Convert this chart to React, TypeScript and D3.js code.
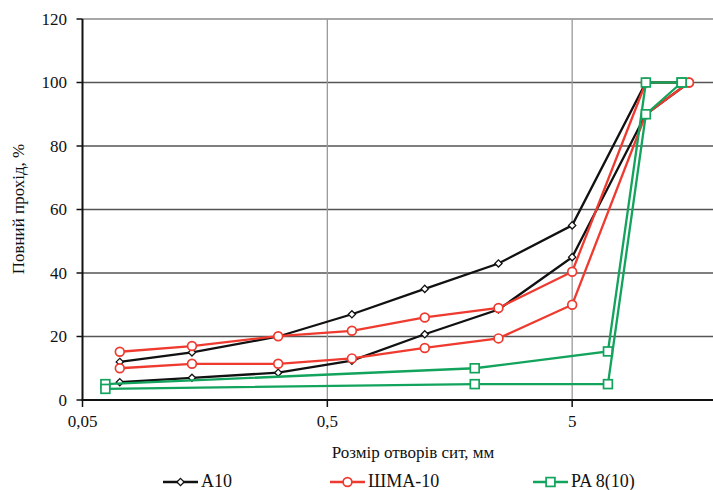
import React from 'react';
import { scaleLog, scaleLinear, line } from 'd3';

// sieve sizes, mm
const SIEVES_A = [0.071, 0.14, 0.315, 0.63, 1.25, 2.5, 5, 10, 15];
const SIEVES_PA = [0.062, 2, 7, 10, 14];

// passing, %
const A10_UPPER = [12, 15, 20, 27, 35, 43, 55, 100, 100];
const A10_LOWER = [5.6, 7, 8.6, 12.4, 20.7, 28.5, 45, 90, 100];
const SHMA_UPPER = [15.2, 17, 20.1, 21.8, 26, 29, 40.4, 100, 100];
const SHMA_LOWER = [10, 11.4, 11.4, 13.1, 16.4, 19.4, 30, 90, 100];
const PA_UPPER = [5, 10, 15.3, 100, 100];
const PA_LOWER = [3.5, 5, 5, 90, 100];

const Y_TICKS = [0, 20, 40, 60, 80, 100, 120];
const X_TICKS = [0.05, 0.5, 5];
const X_TICK_LABELS = ['0,05', '0,5', '5'];

const SERIES = [
  { name: 'A10', color: '#111111', marker: 'diamond', sieves: SIEVES_A, curves: [A10_UPPER, A10_LOWER] },
  { name: 'ШМА-10', color: '#ee3a2f', marker: 'circle', sieves: SIEVES_A, curves: [SHMA_UPPER, SHMA_LOWER] },
  { name: 'PA 8(10)', color: '#12a35c', marker: 'square', sieves: SIEVES_PA, curves: [PA_UPPER, PA_LOWER] },
];

const W = 713;
const H = 490;
const FONT = '"Liberation Serif", "Times New Roman", serif';

const x = scaleLog().domain([0.05, 50]).range([82.5, 817]);
const y = scaleLinear().domain([0, 120]).range([400, 19]);

function Marker({ kind, cx, cy, color }: { kind: string; cx: number; cy: number; color: string }) {
  if (kind === 'circle') {
    return <circle cx={cx} cy={cy} r={4.4} fill="#fff" stroke={color} strokeWidth={1.7} />;
  }
  if (kind === 'square') {
    return <rect x={cx - 4.4} y={cy - 4.4} width={8.8} height={8.8} fill="#fff" stroke={color} strokeWidth={1.7} />;
  }
  const r = 3.6;
  return (
    <path d={`M${cx},${cy - r}L${cx + r},${cy}L${cx},${cy + r}L${cx - r},${cy}Z`}
      fill="#fff" stroke={color} strokeWidth={1.3} />
  );
}

export default function App() {
  const path = line<[number, number]>()
    .x(d => x(d[0]))
    .y(d => y(d[1]));

  const legendPos = [163, 330, 533];
  const legendY = 482;

  return (
    <div style={{ position: 'absolute', left: 0, top: 0 }}>
      <svg width={W} height={H} style={{ display: 'block', background: '#fff', fontFamily: FONT }}>
        {/* grid */}
        {Y_TICKS.filter(t => t > 0).map(t => (
          <line key={'h' + t} x1={x(0.05)} x2={W} y1={y(t)} y2={y(t)}
            stroke={t === 120 ? '#8a8a8a' : '#555'} strokeWidth={1.5} />
        ))}
        {X_TICKS.slice(1).map(t => (
          <line key={'v' + t} x1={x(t)} x2={x(t)} y1={y(120)} y2={y(0)} stroke="#9a9a9a" strokeWidth={1.3} />
        ))}

        {/* axes */}
        <line x1={x(0.05)} x2={x(0.05)} y1={y(120)} y2={y(0) + 1} stroke="#111" strokeWidth={2} />
        <line x1={x(0.05) - 1} x2={W} y1={y(0)} y2={y(0)} stroke="#111" strokeWidth={2} />
        {Y_TICKS.map(t => (
          <g key={'yt' + t}>
            <line x1={x(0.05) - 6} x2={x(0.05)} y1={y(t)} y2={y(t)} stroke="#111" strokeWidth={1.5} />
            <text x={67} y={y(t)} dy="0.35em" textAnchor="end" fontSize={17} fill="#111">{t}</text>
          </g>
        ))}
        {X_TICKS.map((t, i) => (
          <g key={'xt' + t}>
            <line x1={x(t)} x2={x(t)} y1={y(0)} y2={y(0) + 7} stroke="#111" strokeWidth={1.5} />
            <text x={x(t)} y={427} textAnchor="middle" fontSize={17} fill="#111">{X_TICK_LABELS[i]}</text>
          </g>
        ))}

        {/* axis titles */}
        <text x={413} y={458} textAnchor="middle" fontSize={17} fill="#111">Розмір отворів сит, мм</text>
        <text transform="translate(24,209) rotate(-90)" textAnchor="middle" fontSize={17} fill="#111">Повний прохід, %</text>

        {/* series */}
        {SERIES.map(s => (
          <g key={s.name}>
            {s.curves.map((c, ci) => {
              const pts = s.sieves.map((v, i) => [v, c[i]] as [number, number]);
              return (
                <g key={ci}>
                  <path d={path(pts) as string} fill="none" stroke={s.color} strokeWidth={2.3} />
                  {pts.map((p, i) => (
                    <Marker key={i} kind={s.marker} cx={x(p[0])} cy={y(p[1])} color={s.color} />
                  ))}
                </g>
              );
            })}
          </g>
        ))}

        {/* legend */}
        {SERIES.map((s, i) => {
          const lx = legendPos[i];
          return (
            <g key={'lg' + s.name}>
              <line x1={lx} x2={lx + 35} y1={legendY} y2={legendY} stroke={s.color} strokeWidth={2.3} />
              <Marker kind={s.marker} cx={lx + 17.5} cy={legendY} color={s.color} />
              <text x={lx + 38} y={legendY} dy="0.3em" fontSize={18} fill="#111">{s.name}</text>
            </g>
          );
        })}
      </svg>
    </div>
  );
}
